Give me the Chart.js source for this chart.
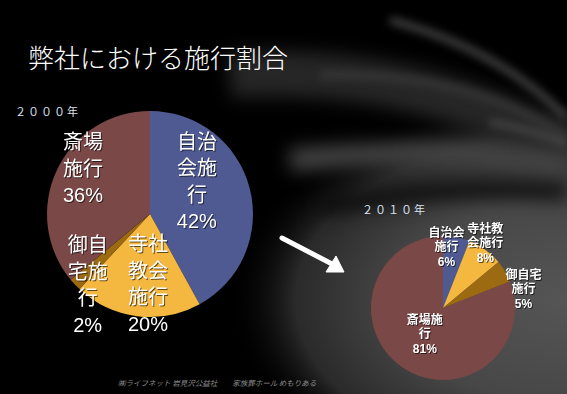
<!DOCTYPE html>
<html lang="ja">
<head>
<meta charset="utf-8">
<script src="https://cdn.jsdelivr.net/npm/chart.js@4.4.1/dist/chart.umd.min.js"></script>
<style>
  html, body { margin: 0; padding: 0; }
  body { width: 567px; height: 394px; overflow: hidden; position: relative; background: #000; }
  #bg { position: absolute; left: 0; top: 0; }
  canvas { position: absolute; left: 0; top: 0; }
  .title {
    position: absolute; left: 28px; top: 38px; color: #fff;
    font: 300 26px "Noto Sans CJK JP", sans-serif; white-space: nowrap;
  }
  .year {
    position: absolute; color: #dde3f0; white-space: nowrap;
    font: 11px "Noto Sans CJK JP", sans-serif; letter-spacing: 2px;
  }
  .footer {
    position: absolute; left: 118px; top: 377px; color: #8a8a8a; white-space: nowrap;
    font: italic 7.5px "Noto Sans CJK JP", sans-serif;
  }
</style>
</head>
<body>
<svg id="bg" width="567" height="394" color-interpolation-filters="sRGB">
  <defs>
    <radialGradient id="glow" cx="567" cy="300" r="340" gradientUnits="userSpaceOnUse" gradientTransform="translate(567 300) scale(1 0.6) translate(-567 -300)">
      <stop offset="0" stop-color="#555"/>
      <stop offset="0.5" stop-color="#474747"/>
      <stop offset="0.8" stop-color="#2a2a2a"/>
      <stop offset="1" stop-color="#000" stop-opacity="0"/>
    </radialGradient>
    <filter id="blur" filterUnits="userSpaceOnUse" x="0" y="0" width="567" height="394" color-interpolation-filters="sRGB"><feGaussianBlur stdDeviation="9"/></filter>
    <filter id="blur2" filterUnits="userSpaceOnUse" x="0" y="0" width="567" height="394" color-interpolation-filters="sRGB"><feGaussianBlur stdDeviation="4"/></filter>
  </defs>
  <rect width="567" height="394" fill="url(#glow)"/>
  <g filter="url(#blur)" fill="none">
    <path d="M230 75 Q420 65 567 150" stroke="#262626" stroke-width="45"/>
    <path d="M290 160 Q460 145 567 165" stroke="#454545" stroke-width="22"/>
    <path d="M320 208 Q450 182 567 192" stroke="#0a0a0a" stroke-width="16"/>
  </g>
  <g filter="url(#blur2)" fill="none">
    <path d="M390 20 Q500 50 567 118" stroke="#3e3e3e" stroke-width="8"/>
    <path d="M320 75 Q470 72 567 138" stroke="#363636" stroke-width="8"/>
    <path d="M490 122 Q535 130 567 145" stroke="#4e4e4e" stroke-width="5"/>
  </g>
  <g stroke="#fff" fill="#fff">
    <line x1="282" y1="238" x2="334" y2="265" stroke-width="5" stroke-linecap="round"/>
    <polygon points="344,272 326,272 336,256" stroke-width="1"/>
  </g>
</svg>

<div class="title">弊社における施行割合</div>
<div class="year" style="left:15px; top:103px;">２０００年</div>
<div class="year" style="left:362px; top:201px;">２０１０年</div>
<div class="footer">㈱ライフネット 岩見沢公益社　　家族葬ホール めもりある</div>

<canvas id="pie2000" width="567" height="394"></canvas>
<canvas id="pie2010" width="567" height="394"></canvas>

<script>
// categories and values
const categories = ['自治会施行', '寺社教会施行', '御自宅施行', '斎場施行'];
const values2000 = [42, 20, 2, 36];
const values2010 = [6, 8, 5, 81];
const sliceColors = ['#4f5a92', '#f4b740', '#9c6a10', '#7a4846'];

// split a name into lines of n characters
function wrap(text, n) {
  const out = [];
  for (let i = 0; i < text.length; i += n) out.push(text.slice(i, i + n));
  return out;
}

// draws the multi-line labels at each slice
const sliceLabels = {
  id: 'sliceLabels',
  afterDatasetsDraw(chart, args, opts) {
    const ctx = chart.ctx;
    const meta = chart.getDatasetMeta(0);
    const data = chart.data.datasets[0].data;
    ctx.save();
    ctx.font = opts.font;
    ctx.fillStyle = '#fff';
    ctx.textAlign = 'center';
    ctx.textBaseline = 'middle';
    ctx.shadowColor = 'rgba(0,0,0,0.6)';
    ctx.shadowOffsetX = 1;
    ctx.shadowOffsetY = 1;
    meta.data.forEach((arc, i) => {
      const p = arc.getProps(['x', 'y', 'startAngle', 'endAngle', 'outerRadius'], true);
      const mid = (p.startAngle + p.endAngle) / 2;
      const r = p.outerRadius * opts.radius[i];
      const cx = p.x + Math.cos(mid) * r + opts.offset[i][0];
      const cy = p.y + Math.sin(mid) * r + opts.offset[i][1];
      const lines = wrap(chart.data.labels[i], opts.wrap).concat([data[i] + '%']);
      const top = cy - (lines.length - 1) * opts.lineHeight / 2;
      lines.forEach((line, k) => ctx.fillText(line, cx, top + k * opts.lineHeight));
    });
    ctx.restore();
  }
};

function makePie(id, values, padding, labelOpts) {
  return new Chart(document.getElementById(id), {
    type: 'pie',
    data: {
      labels: categories,
      datasets: [{
        data: values,
        backgroundColor: sliceColors,
        borderWidth: 0
      }]
    },
    options: {
      responsive: false,
      animation: false,
      events: [],
      layout: { padding: padding },
      plugins: {
        legend: { display: false },
        tooltip: { enabled: false },
        sliceLabels: labelOpts
      }
    },
    plugins: [sliceLabels]
  });
}

makePie('pie2000', values2000,
  { left: 47, top: 111, right: 314, bottom: 77 },
  {
    font: '20px "Liberation Sans", "Noto Sans CJK JP", sans-serif',
    wrap: 2,
    lineHeight: 26.5,
    radius: [0.47, 0.7, 0.83, 0.72],
    offset: [[0, -19], [7, 0], [0, 14], [0, -12]]
  });

makePie('pie2010', values2010,
  { left: 371, top: 236, right: 52, bottom: 14 },
  {
    font: 'bold 12px "Liberation Sans", "Noto Sans CJK JP", sans-serif',
    wrap: 3,
    lineHeight: 14.5,
    radius: [0.85, 1.0, 1.25, 0.45],
    offset: [[-8, 0], [0, -6], [3, 28], [0, 0]]
  });
</script>
</body>
</html>
